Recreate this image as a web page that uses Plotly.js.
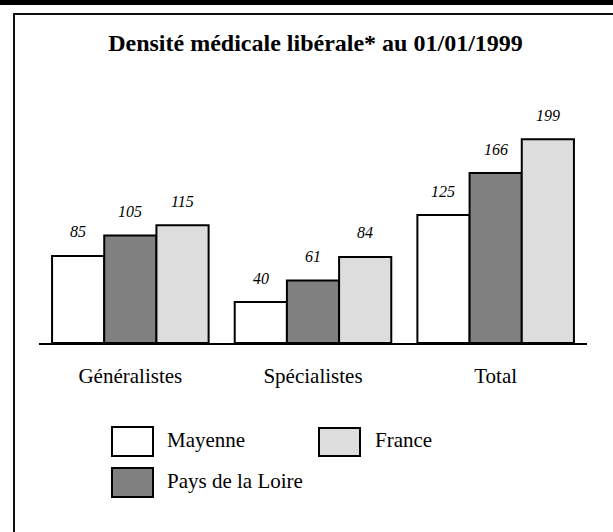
<!DOCTYPE html>
<html><head><meta charset="utf-8">
<script src="https://cdn.plot.ly/plotly-3.0.1.min.js"></script>
<style>
html,body{margin:0;padding:0;background:#fff;}
#wrap{position:relative;width:613px;height:532px;overflow:hidden;background:#fff;}
#topbar{position:absolute;left:0;top:0;width:613px;height:5px;background:#000;}
#frame{position:absolute;left:13px;top:13px;width:640px;height:560px;border-left:2px solid #111;border-top:2px solid #111;}
#chart{position:absolute;left:0;top:0;width:613px;height:532px;}
</style></head><body>
<div id="wrap"><div id="topbar"></div><div id="frame"></div><div id="chart"></div></div>
<script>
const categories = ['Généralistes', 'Spécialistes', 'Total'];
const seriesNames = ['Mayenne', 'Pays de la Loire', 'France'];
const mayenne = [85, 40, 125];
const paysDeLaLoire = [105, 61, 166];
const france = [115, 84, 199];
const chartTitle = 'Densité médicale libérale* au 01/01/1999';

const seriesValues = [mayenne, paysDeLaLoire, france];
const seriesColors = ['#ffffff', '#808080', '#dddddd'];

const W = 613, H = 532;
const M = {l: 39, r: 26, t: 87, b: 189};
const PW = W - M.l - M.r, PH = H - M.t - M.b;
const px = x => (x - M.l) / PW;
const py = y => (H - M.b - y) / PH;
const serif = 'Liberation Serif';

const traces = seriesValues.map((vals, i) => ({
  type: 'bar',
  name: seriesNames[i],
  x: categories,
  y: vals,
  marker: {color: seriesColors[i], line: {color: '#000', width: 2}},
  showlegend: false,
  hoverinfo: 'none'
}));

const bargap = 0.143;
const barPx = (PW / categories.length) * (1 - bargap) / seriesValues.length;

const annotations = [];
seriesValues.forEach((vals, i) => {
  vals.forEach((v, j) => {
    annotations.push({
      x: categories[j], y: v, xref: 'x', yref: 'y',
      text: String(v), showarrow: false,
      xshift: (i - 1) * barPx, yshift: 24,
      yanchor: 'middle', xanchor: 'center',
      font: {family: serif, size: 16, color: '#000', style: 'italic'}
    });
  });
});

// legend
const legendItems = [
  {box: [112, 427, 153, 456], tx: 165, ty: 440},
  {box: [112, 468, 153, 497], tx: 165, ty: 481},
  {box: [319, 428, 360, 456], tx: 373, ty: 440}
];
const shapes = [];
legendItems.forEach((it, i) => {
  shapes.push({
    type: 'rect', xref: 'paper', yref: 'paper',
    x0: px(it.box[0]), x1: px(it.box[2]), y0: py(it.box[3]), y1: py(it.box[1]),
    fillcolor: seriesColors[i], line: {color: '#000', width: 2}
  });
  annotations.push({
    xref: 'paper', yref: 'paper', x: px(it.tx), y: py(it.ty),
    xanchor: 'left', yanchor: 'middle', showarrow: false,
    text: seriesNames[i],
    font: {family: serif, size: 21, color: '#000'}
  });
});

const layout = {
  width: W, height: H,
  margin: M,
  font: {family: serif, color: '#000'},
  paper_bgcolor: 'rgba(0,0,0,0)',
  plot_bgcolor: 'rgba(0,0,0,0)',
  title: {
    text: '<b>' + chartTitle + '</b>',
    font: {family: serif, size: 24, color: '#000'},
    xref: 'container', yref: 'container',
    x: 315.5 / W, xanchor: 'center',
    y: 1 - 43 / H, yanchor: 'middle'
  },
  barmode: 'group',
  bargap: bargap,
  bargroupgap: 0,
  xaxis: {
    type: 'category',
    range: [-0.5, 2.5],
    showline: true, linecolor: '#000', linewidth: 2,
    ticks: '', showgrid: false, zeroline: false,
    tickfont: {family: serif, size: 21, color: '#000'},
    ticklabelstandoff: 13,
    fixedrange: true
  },
  yaxis: {
    range: [0, 250],
    visible: false, showgrid: false, zeroline: false,
    fixedrange: true
  },
  annotations: annotations,
  shapes: shapes
};

Plotly.newPlot('chart', traces, layout, {staticPlot: true, displayModeBar: false});
</script>
</body></html>
